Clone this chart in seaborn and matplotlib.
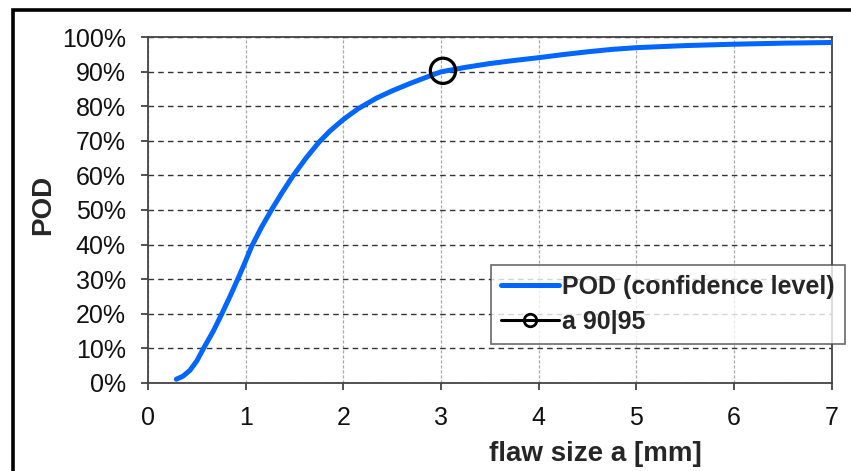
import matplotlib
matplotlib.use('Agg')
import matplotlib.pyplot as plt
import seaborn as sns
import pandas as pd
from matplotlib.lines import Line2D
from matplotlib.patches import Rectangle
from matplotlib.ticker import PercentFormatter


# DATA

flaw_size = [0.29, 0.36, 0.43, 0.50, 0.57, 0.67, 0.75, 0.84, 0.91, 0.99,
             1.06, 1.16, 1.27, 1.37, 1.48, 1.62, 1.75, 1.86, 2.00, 2.15,
             2.34, 2.50, 2.68, 2.93, 3.00, 3.25, 3.50, 3.75, 4.00, 4.25,
             4.50, 4.75, 5.00, 5.50, 6.00, 6.50, 7.00]
pod = [1.0, 1.9, 3.6, 6.3, 10.0, 15.0, 19.6, 25.0, 29.4, 34.6,
       39.4, 44.9, 50.3, 54.9, 59.7, 65.1, 69.6, 72.8, 76.2, 79.3,
       82.4, 84.5, 86.6, 89.3, 90.0, 91.3, 92.4, 93.3, 94.1, 95.0,
       95.8, 96.5, 97.0, 97.6, 98.0, 98.3, 98.5]

a90_95_size = [3.02]
a90_95_pod = [90.3]

x_ticks = [0, 1, 2, 3, 4, 5, 6, 7]
y_ticks = [0, 10, 20, 30, 40, 50, 60, 70, 80, 90, 100]

curve_label = "POD (confidence level)"
point_label = "a 90|95"


# PLOT SETUP

sns.set_style("ticks")
plt.rcParams['font.family'] = ['Liberation Sans', 'DejaVu Sans']

fig = plt.figure(figsize=(8.51, 4.71), dpi=100)
ax = fig.add_axes([0.1739, 0.1875, 0.8034, 0.7333])

blue = '#0066ff'

df = pd.DataFrame({'a': flaw_size, 'POD': pod})
sns.lineplot(data=df, x='a', y='POD', ax=ax, color=blue, linewidth=3.6,
             solid_capstyle='round', solid_joinstyle='round', zorder=3)

pt = pd.DataFrame({'a': a90_95_size, 'POD': a90_95_pod})
sns.scatterplot(data=pt, x='a', y='POD', ax=ax, marker='o', s=330,
                facecolors='none', edgecolor='black', linewidth=2.3, zorder=4)

# Axes limits & ticks
ax.set_xlim(0, 7)
ax.set_ylim(0, 100)
ax.set_xticks(x_ticks)
ax.set_yticks(y_ticks)
ax.yaxis.set_major_formatter(PercentFormatter(decimals=0))
ax.tick_params(axis='both', labelsize=18, colors='#444444', labelcolor='#111111',
               length=5, width=1.3, direction='out')
ax.tick_params(axis='x', pad=12)
ax.tick_params(axis='y', pad=11)

# Grid: dark dashed horizontal, light fine dashed vertical
ax.yaxis.grid(True, color='#333333', linestyle=(0, (4, 3)), linewidth=1.0)
ax.xaxis.grid(True, color='#aaaaaa', linestyle=(0, (2.5, 1.5)), linewidth=0.9)
ax.set_axisbelow(True)

for side in ['left', 'bottom', 'right', 'top']:
    ax.spines[side].set_visible(True)
    ax.spines[side].set_color('#444444')
    ax.spines[side].set_linewidth(1.3)

# Labels
ax.set_xlabel("flaw size a [mm]", fontsize=20, fontweight='bold')
ax.xaxis.set_label_coords(0.655, -0.168)
ax.set_ylabel("POD", fontsize=20, fontweight='bold')
ax.yaxis.set_label_coords(-0.134, 0.514)

# Legend (custom handles to match the small circle in the key)
handles = [
    Line2D([0], [0], color=blue, linewidth=3.6),
    Line2D([0], [0], color='black', linewidth=2.2, marker='o', markersize=9,
           markerfacecolor='none', markeredgewidth=2.0),
]
leg = ax.legend(handles, [curve_label, point_label],
                loc='upper right', bbox_to_anchor=(1.0195, 0.3408),
                borderaxespad=0, frameon=True, fancybox=False,
                prop={'weight': 'bold', 'size': 18},
                handlelength=2.3, handletextpad=0.15, labelspacing=0.45,
                borderpad=0.4)
leg.get_frame().set_edgecolor('#444444')
leg.get_frame().set_linewidth(1.2)
leg.set_zorder(5)

# Outer picture frame (cropped on right and bottom)
fig.patches.append(Rectangle((13 / 851, -0.2), 1.2, 1.2 - 10 / 471,
                             transform=fig.transFigure, fill=False,
                             edgecolor='black', linewidth=2.6, clip_on=False))

fig.savefig('out.png', dpi=100)
